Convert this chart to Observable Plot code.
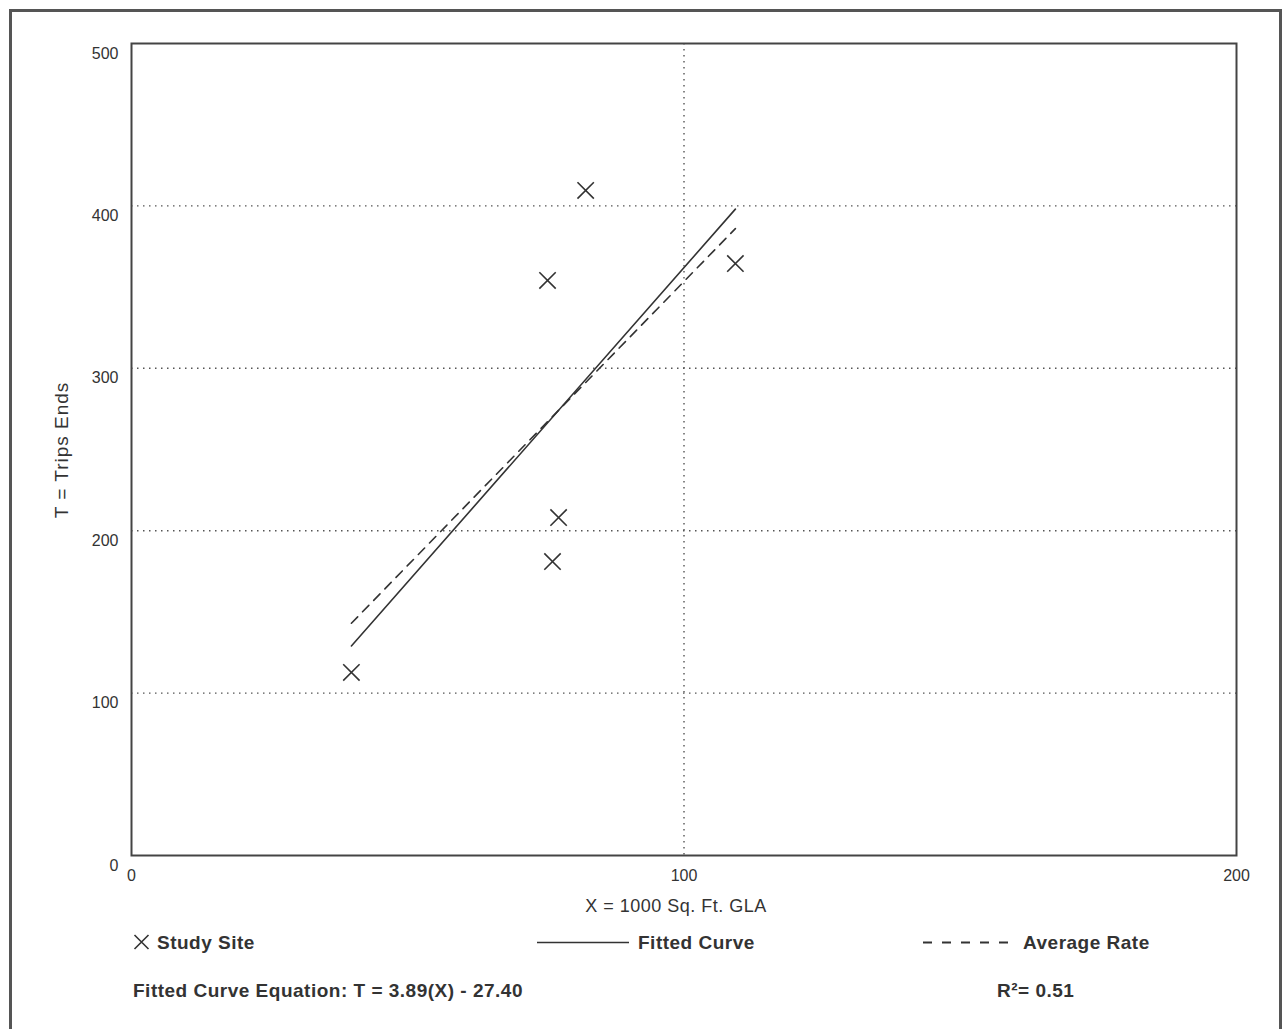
<!DOCTYPE html>
<html>
<head>
<meta charset="utf-8">
<script src="https://cdn.jsdelivr.net/npm/d3@7"></script>
<script src="https://cdn.jsdelivr.net/npm/@observablehq/plot@0.6"></script>
<style>
  html, body { margin: 0; padding: 0; background: #fff; }
  #wrap { position: relative; width: 1284px; height: 1029px; overflow: hidden; background: #fff;
          font-family: "Liberation Sans", Arial, sans-serif; color: #333; }
  #outer { position: absolute; left: 9px; top: 9px; width: 1267px; height: 1100px; border: 3px solid #555; }
  #chart { position: absolute; left: 0; top: 0; }
  .lbl { position: absolute; white-space: nowrap; }
  .bold { font-weight: bold; font-size: 19px; letter-spacing: 0.5px; line-height: 1; }
</style>
</head>
<body>
<div id="wrap">
  <div id="outer"></div>
  <div id="chart"></div>
  <div class="lbl" id="xlabel" style="left:676px; top:906px; transform:translate(-50%,-50%); font-size:18px; letter-spacing:0.5px;"></div>
  <div class="lbl" id="ylabel" style="left:62px; top:450px; transform:translate(-50%,-50%) rotate(-90deg); font-size:19px; letter-spacing:1px;"></div>
  <div class="lbl bold" style="left:133px; top:942px; transform:translateY(-50%); display:flex; align-items:center;">
    <svg width="17" height="17" style="margin-right:7px"><path d="M1.5,1.5L15.5,15.5M15.5,1.5L1.5,15.5" stroke="#333" stroke-width="1.6"/></svg><span id="leg0"></span>
  </div>
  <div class="lbl bold" style="left:537px; top:942px; transform:translateY(-50%); display:flex; align-items:center;">
    <svg width="92" height="4" style="margin-right:9px"><line x1="0" y1="2" x2="92" y2="2" stroke="#333" stroke-width="1.6"/></svg><span id="leg1"></span>
  </div>
  <div class="lbl bold" style="left:923px; top:942px; transform:translateY(-50%); display:flex; align-items:center;">
    <svg width="86" height="4" style="margin-right:14px"><line x1="0" y1="2" x2="86" y2="2" stroke="#333" stroke-width="1.8" stroke-dasharray="9,10"/></svg><span id="leg2"></span>
  </div>
  <div class="lbl bold" id="eq" style="left:133px; top:990px; transform:translateY(-50%);"></div>
  <div class="lbl bold" id="r2" style="left:997px; top:990px; transform:translateY(-50%);"></div>
</div>
<script>
// ---- data ----
const siteX = [39.8, 75.3, 82.2, 77.3, 76.2, 109.3];
const siteT = [112.7, 354.1, 409.5, 208.1, 181.0, 364.5];
const fittedX = [39.8, 109.3];
const fittedT = [129, 398];
const averageX = [39.8, 109.3];
const averageT = [143, 386];
const xTicks = [0, 100, 200];
const yTicks = [0, 100, 200, 300, 400, 500];
const xGrid = [100];
const yGrid = [100, 200, 300, 400];
const legendLabels = ["Study Site", "Fitted Curve", "Average Rate"];
const xTitle = "X = 1000 Sq. Ft. GLA";
const yTitle = "T = Trips Ends";
const equationText = "Fitted Curve Equation: T = 3.89(X) - 27.40";
const r2Text = "R²= 0.51";

const sites = siteX.map((x, i) => ({x, t: siteT[i]}));
const fitted = fittedX.map((x, i) => ({x, t: fittedT[i]}));
const average = averageX.map((x, i) => ({x, t: averageT[i]}));

const chart = Plot.plot({
  width: 1284,
  height: 1029,
  marginLeft: 131,
  marginRight: 48,
  marginTop: 43,
  marginBottom: 174,
  style: {fontFamily: "'Liberation Sans', Arial, sans-serif", fontSize: "16px", color: "#333", background: "transparent"},
  x: {domain: [0, 200]},
  y: {domain: [0, 500]},
  marks: [
    Plot.gridY(yGrid, {stroke: "#555", strokeOpacity: 1, strokeWidth: 1.4, strokeDasharray: "1.5,4.5"}),
    Plot.gridX(xGrid, {stroke: "#555", strokeOpacity: 1, strokeWidth: 1.4, strokeDasharray: "1.5,4.5"}),
    Plot.axisY(yTicks, {tickSize: 0, tickPadding: 13, dy: 10, label: null, fill: "#333"}),
    Plot.axisX(xTicks, {tickSize: 0, tickPadding: 14, label: null, fill: "#333"}),
    Plot.frame({stroke: "#444", strokeWidth: 2}),
    Plot.line(average, {x: "x", y: "t", stroke: "#333", strokeWidth: 1.6, strokeDasharray: "9,7"}),
    Plot.line(fitted, {x: "x", y: "t", stroke: "#333", strokeWidth: 1.6}),
    Plot.dot(sites, {x: "x", y: "t", symbol: "times", r: 7.5, stroke: "#333", strokeWidth: 1.6})
  ]
});
document.getElementById("chart").appendChild(chart);
document.getElementById("xlabel").textContent = xTitle;
document.getElementById("ylabel").textContent = yTitle;
document.getElementById("leg0").textContent = legendLabels[0];
document.getElementById("leg1").textContent = legendLabels[1];
document.getElementById("leg2").textContent = legendLabels[2];
document.getElementById("eq").textContent = equationText;
document.getElementById("r2").textContent = r2Text;
</script>
</body>
</html>
